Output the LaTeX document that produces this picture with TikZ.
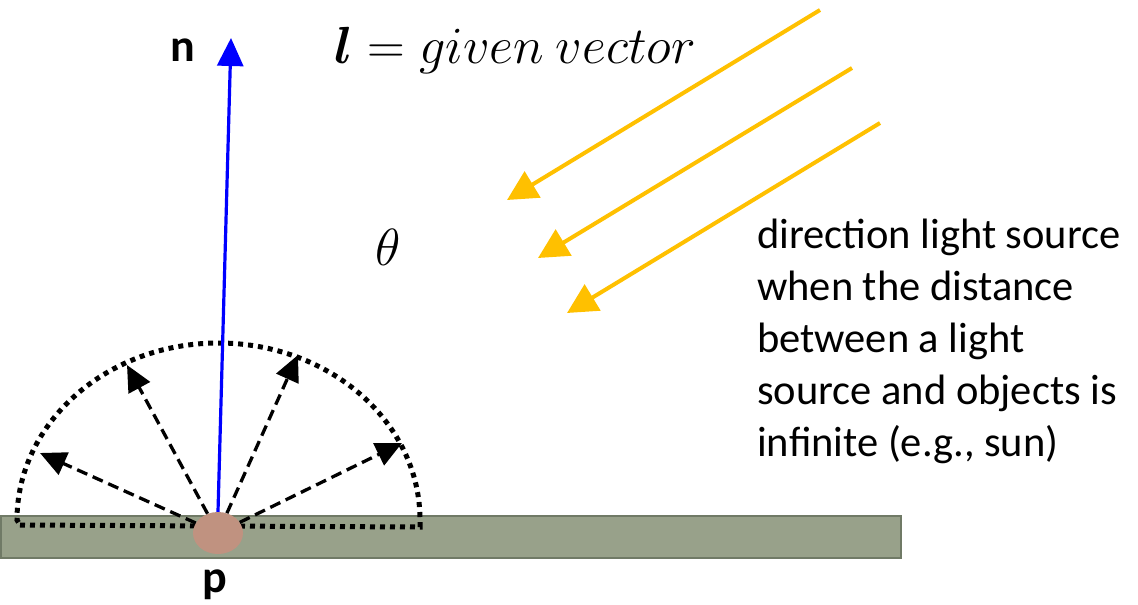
\documentclass[tikz,border=0pt]{standalone}
\usepackage{amsmath}
\usepackage{fontspec}
\setmainfont{Carlito}
\usetikzlibrary{arrows.meta,shapes.geometric}
\definecolor{groundfill}{RGB}{152,161,138}
\definecolor{groundedge}{RGB}{112,122,102}
\definecolor{pfill}{RGB}{192,146,128}
\definecolor{nblue}{RGB}{0,0,255}
\definecolor{lightyellow}{RGB}{255,192,0}
\begin{document}
\begin{tikzpicture}[x=1pt,y=-1pt,
  ground/.style={rectangle, fill=groundfill, draw=groundedge, line width=2pt, inner sep=0pt},
  pnode/.style={ellipse, fill=pfill, minimum width=50pt, minimum height=42pt, inner sep=0pt},
  normalvec/.style={draw=nblue, line width=3.2pt, -{Triangle[length=28pt,width=26pt]}},
  lightray/.style={draw=lightyellow, line width=4pt, -{Triangle[length=30pt,width=30pt]}},
  refl/.style={draw=black, line width=3.3pt, dash pattern=on 11pt off 6pt, -{Triangle[length=26pt,width=24pt]}},
  hemi/.style={draw=black, line width=5pt, dash pattern=on 5pt off 5pt},
  lbl/.style={font=\fontsize{46}{52}\selectfont\bfseries},
  mathlbl/.style={font=\Huge, scale=2.1},
  desc/.style={font=\fontsize{42.5}{52}\selectfont, align=left, inner sep=0pt}]
\useasboundingbox (0,0) rectangle (1138,605);
% ground slab
\node[ground, minimum width=900pt, minimum height=42pt, anchor=north west] (slab) at (0,515) {};
% dotted hemisphere
\draw[hemi] (20,525) -- (420,527) -- (420,520) arc[start angle=0, end angle=180, x radius=201.5pt, y radius=177pt] -- cycle;
% point p
\node[pnode] (p) at (218,533) {};
% reflected directions
\coordinate (r1) at (40,453);
\coordinate (r2) at (127,365);
\coordinate (r3) at (298,355);
\coordinate (r4) at (402,443);
\draw[refl] (p) -- (r1);
\draw[refl] (p) -- (r2);
\draw[refl] (p) -- (r3);
\draw[refl] (p) -- (r4);
% normal
\coordinate (ntip) at (231,38);
\draw[normalvec] (p.north) -- (ntip);
\node[lbl] (nlbl) at (183,50) {n};
\node[lbl] (plbl) at (215,585) {p};
% light vector label
\node[mathlbl] (lvec) at (515,50) {$\boldsymbol{l} = given\ vector$};
\node[mathlbl] (theta) at (388,247) {$\theta$};
% light rays
\coordinate (a1s) at (820,10);  \coordinate (a1e) at (507,200);
\coordinate (a2s) at (852,68);  \coordinate (a2e) at (538,258);
\coordinate (a3s) at (880,123); \coordinate (a3e) at (567,313);
\draw[lightray] (a1s) -- (a1e);
\draw[lightray] (a2s) -- (a2e);
\draw[lightray] (a3s) -- (a3e);
% description
\node[desc, anchor=base west] (text) at (757,456) {direction light source\\when the distance\\between a light\\source and objects is\\infinite (e.g., sun)};
\end{tikzpicture}
\end{document}
